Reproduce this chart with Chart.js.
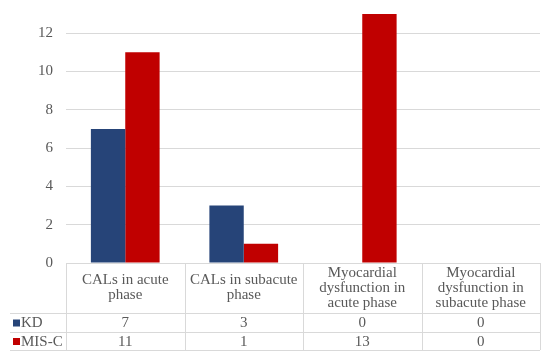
<!DOCTYPE html>
<html>
<head>
<meta charset="utf-8">
<script src="https://cdn.jsdelivr.net/npm/chart.js@4"></script>
<style>
  html, body { margin: 0; padding: 0; background: #fff; }
  #wrap { width: 550px; height: 362px; }
</style>
</head>
<body>
<div id="wrap"><canvas id="barChart"></canvas></div>
<script>
const categories = [
  ['CALs in acute', 'phase'],
  ['CALs in subacute', 'phase'],
  ['Myocardial', 'dysfunction in', 'acute phase'],
  ['Myocardial', 'dysfunction in', 'subacute phase']
];
const kdValues = [7, 3, 0, 0];
const miscValues = [11, 1, 13, 0];
const yTicks = [0, 2, 4, 6, 8, 10, 12];

const FONT = '"Liberation Serif", "Times New Roman", serif';
const TEXT = '#595959';
const LINE = '#d9d9d9';

// data table drawn under the plot, columns follow the x scale
const dataTable = {
  id: 'dataTable',
  afterDraw(chart) {
    const ctx = chart.ctx;
    const x = chart.scales.x;
    const area = chart.chartArea;
    const n = chart.data.labels.length;
    const colW = (area.right - area.left) / n;
    const top = area.bottom;
    const rows = [top + 50, top + 69, top + 87];
    const leftEdge = 10;

    ctx.save();
    ctx.strokeStyle = LINE;
    ctx.lineWidth = 1;
    ctx.beginPath();
    ctx.moveTo(area.left, top + 0.5); ctx.lineTo(area.right, top + 0.5);
    rows.forEach(y => { ctx.moveTo(leftEdge, y + 0.5); ctx.lineTo(area.right, y + 0.5); });
    for (let i = 0; i <= n; i++) {
      const lx = Math.round(area.left + i * colW) + 0.5;
      ctx.moveTo(lx, top); ctx.lineTo(lx, rows[2]);
    }
    ctx.stroke();

    ctx.fillStyle = TEXT;
    ctx.font = '15px ' + FONT;
    ctx.textAlign = 'center';
    ctx.textBaseline = 'middle';
    const headMid = (top + rows[0]) / 2;
    chart.data.labels.forEach((lab, i) => {
      const cx = x.getPixelForValue(i);
      const lines = Array.isArray(lab) ? lab : [lab];
      const lh = 15;
      const y0 = headMid - (lines.length - 1) * lh / 2;
      lines.forEach((t, j) => ctx.fillText(t, cx, y0 + j * lh));
    });

    chart.data.datasets.forEach((ds, r) => {
      const cy = (rows[r] + (r === 0 ? rows[1] : rows[2])) / 2 + 1;
      ds.data.forEach((v, i) => ctx.fillText(String(v), x.getPixelForValue(i), cy));
      ctx.fillStyle = ds.backgroundColor;
      ctx.fillRect(13, cy - 4, 7, 7);
      ctx.fillStyle = TEXT;
      ctx.textAlign = 'left';
      ctx.fillText(ds.label, 21, cy);
      ctx.textAlign = 'center';
    });
    ctx.restore();
  }
};

const ctxBar = document.getElementById('barChart');
new Chart(ctxBar, {
  type: 'bar',
  data: {
    labels: categories,
    datasets: [
      {
        label: 'KD',
        data: kdValues,
        backgroundColor: '#264478'
      },
      {
        label: 'MIS-C',
        data: miscValues,
        backgroundColor: '#c00000'
      }
    ]
  },
  options: {
    responsive: true,
    maintainAspectRatio: false,
    animation: false,
    layout: {
      padding: { top: 14, right: 10, bottom: 91, left: 0 }
    },
    datasets: {
      bar: { categoryPercentage: 0.58, barPercentage: 1 }
    },
    plugins: {
      legend: { display: false },
      tooltip: { enabled: false }
    },
    scales: {
      x: {
        ticks: { display: false },
        grid: { display: false },
        border: { display: false }
      },
      y: {
        min: 0,
        max: 13,
        afterFit(scale) {
          scale.width = 66;
          scale.paddingTop = 0;
          scale.paddingBottom = 0;
        },
        afterBuildTicks(scale) { scale.ticks = yTicks.map(v => ({ value: v })); },
        ticks: {
          color: TEXT,
          padding: 13,
          font: { family: FONT, size: 15 }
        },
        grid: {
          color: ctx => ctx.tick && ctx.tick.value === 0 ? 'rgba(0,0,0,0)' : LINE,
          drawTicks: false
        },
        border: { display: false }
      }
    }
  },
  plugins: [dataTable]
});
</script>
</body>
</html>
